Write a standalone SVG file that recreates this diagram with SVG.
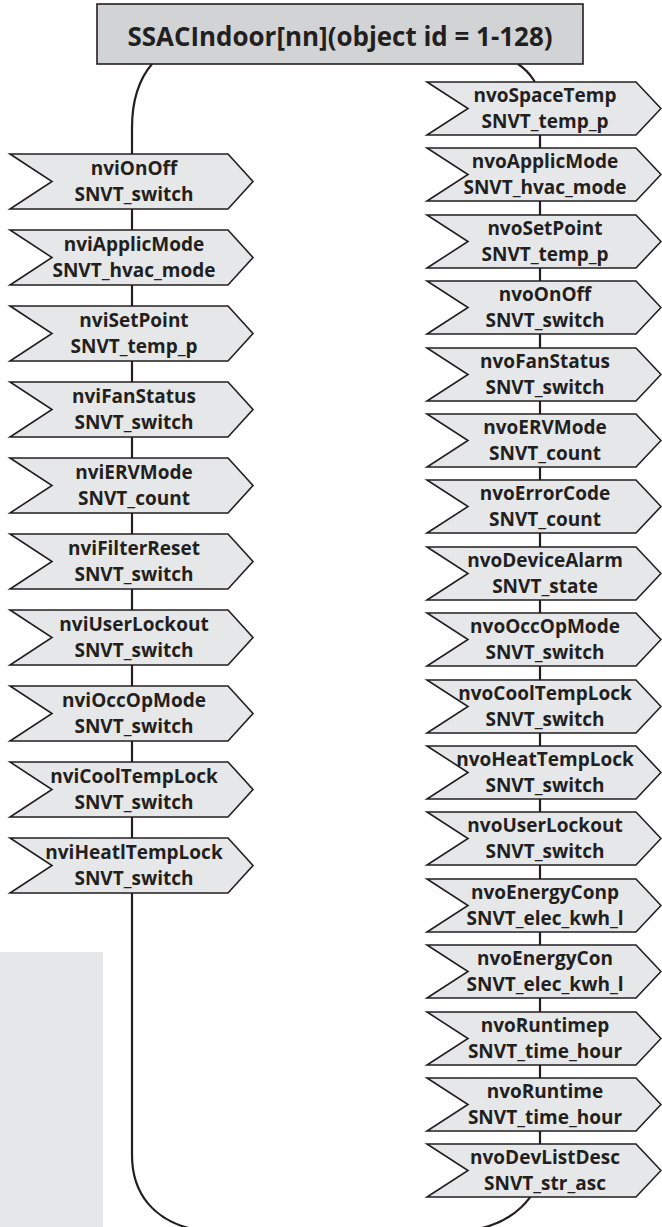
<svg xmlns="http://www.w3.org/2000/svg" xmlns:xlink="http://www.w3.org/1999/xlink" width="662" height="1227" viewBox="0 0 662 1227">
<style>
.sh{fill:#e6e7e8;stroke:#231f20;stroke-width:1.6;stroke-linejoin:miter}
.ttl{fill:#d1d3d4;stroke:#231f20;stroke-width:1.6}
.t{font-family:"Open Sans","Liberation Sans",sans-serif;font-weight:bold;font-size:19px;fill:#231f20;text-anchor:middle}
.tt{font-family:"Open Sans","Liberation Sans",sans-serif;font-weight:bold;font-size:26px;fill:#231f20;text-anchor:middle}
.ln{fill:none;stroke:#231f20;stroke-width:2.2}
</style>
<defs>
<polygon id="inS" class="sh" points="0,0 218,0 243,27.5 218,55 0,55 42,27.5"/>
<polygon id="outS" class="sh" points="0,0 209,0 234,26.5 209,53 0,53 41,26.5"/>
</defs>
<rect x="0" y="952" width="103" height="275" fill="#e6e7e8"/>
<g id="connectors">
<path class="ln" d="M152,64 C140,78 132,98 132,128 L132,1155 C132,1195 155,1220 192,1229 L478,1229 C510,1222 540,1200 540,1165 L540,100 C540,86 530,72 518,64"/>
</g>
<g id="title">
<rect class="ttl" x="97" y="4" width="486" height="60"/>
<text class="tt" x="340" y="46" textLength="425" lengthAdjust="spacingAndGlyphs">SSACIndoor[nn](object id = 1-128)</text>
</g>
<g id="nviOnOff" transform="translate(10,154)"><use xlink:href="#inS"/><text class="t" x="124" y="21">nviOnOff</text><text class="t" x="124" y="47">SNVT_switch</text></g>
<g id="nviApplicMode" transform="translate(10,230)"><use xlink:href="#inS"/><text class="t" x="124" y="21">nviApplicMode</text><text class="t" x="124" y="47">SNVT_hvac_mode</text></g>
<g id="nviSetPoint" transform="translate(10,306)"><use xlink:href="#inS"/><text class="t" x="124" y="21">nviSetPoint</text><text class="t" x="124" y="47">SNVT_temp_p</text></g>
<g id="nviFanStatus" transform="translate(10,382)"><use xlink:href="#inS"/><text class="t" x="124" y="21">nviFanStatus</text><text class="t" x="124" y="47">SNVT_switch</text></g>
<g id="nviERVMode" transform="translate(10,458)"><use xlink:href="#inS"/><text class="t" x="124" y="21">nviERVMode</text><text class="t" x="124" y="47">SNVT_count</text></g>
<g id="nviFilterReset" transform="translate(10,534)"><use xlink:href="#inS"/><text class="t" x="124" y="21">nviFilterReset</text><text class="t" x="124" y="47">SNVT_switch</text></g>
<g id="nviUserLockout" transform="translate(10,610)"><use xlink:href="#inS"/><text class="t" x="124" y="21">nviUserLockout</text><text class="t" x="124" y="47">SNVT_switch</text></g>
<g id="nviOccOpMode" transform="translate(10,686)"><use xlink:href="#inS"/><text class="t" x="124" y="21">nviOccOpMode</text><text class="t" x="124" y="47">SNVT_switch</text></g>
<g id="nviCoolTempLock" transform="translate(10,762)"><use xlink:href="#inS"/><text class="t" x="124" y="21">nviCoolTempLock</text><text class="t" x="124" y="47">SNVT_switch</text></g>
<g id="nviHeatlTempLock" transform="translate(10,838)"><use xlink:href="#inS"/><text class="t" x="124" y="21">nviHeatlTempLock</text><text class="t" x="124" y="47">SNVT_switch</text></g>
<g id="nvoSpaceTemp" transform="translate(427,82)"><use xlink:href="#outS"/><text class="t" x="118" y="20">nvoSpaceTemp</text><text class="t" x="118" y="46">SNVT_temp_p</text></g>
<g id="nvoApplicMode" transform="translate(427,148)"><use xlink:href="#outS"/><text class="t" x="118" y="20">nvoApplicMode</text><text class="t" x="118" y="46">SNVT_hvac_mode</text></g>
<g id="nvoSetPoint" transform="translate(427,215)"><use xlink:href="#outS"/><text class="t" x="118" y="20">nvoSetPoint</text><text class="t" x="118" y="46">SNVT_temp_p</text></g>
<g id="nvoOnOff" transform="translate(427,281)"><use xlink:href="#outS"/><text class="t" x="118" y="20">nvoOnOff</text><text class="t" x="118" y="46">SNVT_switch</text></g>
<g id="nvoFanStatus" transform="translate(427,348)"><use xlink:href="#outS"/><text class="t" x="118" y="20">nvoFanStatus</text><text class="t" x="118" y="46">SNVT_switch</text></g>
<g id="nvoERVMode" transform="translate(427,414)"><use xlink:href="#outS"/><text class="t" x="118" y="20">nvoERVMode</text><text class="t" x="118" y="46">SNVT_count</text></g>
<g id="nvoErrorCode" transform="translate(427,480)"><use xlink:href="#outS"/><text class="t" x="118" y="20">nvoErrorCode</text><text class="t" x="118" y="46">SNVT_count</text></g>
<g id="nvoDeviceAlarm" transform="translate(427,547)"><use xlink:href="#outS"/><text class="t" x="118" y="20">nvoDeviceAlarm</text><text class="t" x="118" y="46">SNVT_state</text></g>
<g id="nvoOccOpMode" transform="translate(427,613)"><use xlink:href="#outS"/><text class="t" x="118" y="20">nvoOccOpMode</text><text class="t" x="118" y="46">SNVT_switch</text></g>
<g id="nvoCoolTempLock" transform="translate(427,680)"><use xlink:href="#outS"/><text class="t" x="118" y="20">nvoCoolTempLock</text><text class="t" x="118" y="46">SNVT_switch</text></g>
<g id="nvoHeatTempLock" transform="translate(427,746)"><use xlink:href="#outS"/><text class="t" x="118" y="20">nvoHeatTempLock</text><text class="t" x="118" y="46">SNVT_switch</text></g>
<g id="nvoUserLockout" transform="translate(427,812)"><use xlink:href="#outS"/><text class="t" x="118" y="20">nvoUserLockout</text><text class="t" x="118" y="46">SNVT_switch</text></g>
<g id="nvoEnergyConp" transform="translate(427,879)"><use xlink:href="#outS"/><text class="t" x="118" y="20">nvoEnergyConp</text><text class="t" x="118" y="46">SNVT_elec_kwh_l</text></g>
<g id="nvoEnergyCon" transform="translate(427,945)"><use xlink:href="#outS"/><text class="t" x="118" y="20">nvoEnergyCon</text><text class="t" x="118" y="46">SNVT_elec_kwh_l</text></g>
<g id="nvoRuntimep" transform="translate(427,1012)"><use xlink:href="#outS"/><text class="t" x="118" y="20">nvoRuntimep</text><text class="t" x="118" y="46">SNVT_time_hour</text></g>
<g id="nvoRuntime" transform="translate(427,1078)"><use xlink:href="#outS"/><text class="t" x="118" y="20">nvoRuntime</text><text class="t" x="118" y="46">SNVT_time_hour</text></g>
<g id="nvoDevListDesc" transform="translate(427,1144)"><use xlink:href="#outS"/><text class="t" x="118" y="20">nvoDevListDesc</text><text class="t" x="118" y="46">SNVT_str_asc</text></g>
</svg>
